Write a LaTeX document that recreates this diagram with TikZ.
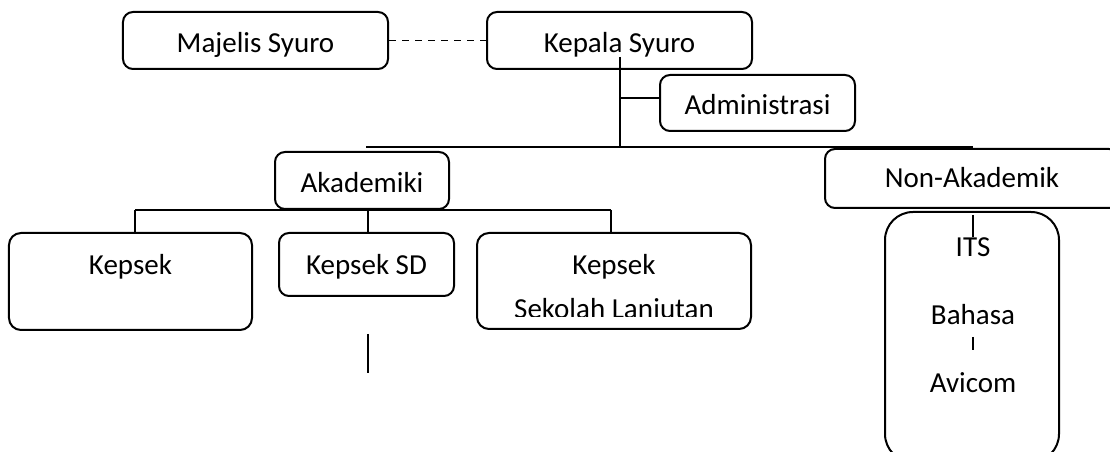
\documentclass[tikz,border=0pt]{standalone}
\usepackage{fontspec}
\setmainfont{Carlito}
\begin{document}
\begin{tikzpicture}[x=1bp,y=-1bp,line width=2bp,
  box/.style={draw, rounded corners=10bp, inner sep=0pt, text height=24bp, text depth=0bp,
    font=\fontsize{29bp}{34bp}\selectfont},
  bigbox/.style={draw, rounded corners=12bp, inner sep=0pt},
  txt/.style={inner sep=0pt, anchor=base, font=\fontsize{29bp}{34bp}\selectfont},
  dashlink/.style={line width=1.6bp, dash pattern=on 7bp off 6bp}]
\useasboundingbox (0,0) rectangle (1110,452);

% top level
\node[box, text height=25bp, minimum width=265bp, minimum height=57bp] (maj) at (255.5,40.5) {Majelis Syuro};
\node[box, text height=25bp, minimum width=265bp, minimum height=57bp] (kep) at (619.5,40.5) {Kepala Syuro};
\node[box, minimum width=195bp, minimum height=56bp] (adm) at (757.5,103) {Administrasi};
\draw[dashlink] (maj.east) -- (kep.west);

% trunk below Kepala Syuro
\coordinate (kepfoot) at (620,57);
\coordinate (trunk) at (620,147);
\draw (kepfoot) -- (trunk);
\coordinate (admjoin) at (620,98);
\draw (admjoin) -- (admjoin -| adm.west);
\coordinate (busL) at (366,147);
\coordinate (busR) at (973,147);
\draw[line width=1.6bp] (busL) -- (busR);

% academic branch
\node[box, text height=25bp, minimum width=174bp, minimum height=57bp] (aka) at (362,180.5) {Akademiki};
\node[bigbox, minimum width=243bp, minimum height=97bp] (k1) at (130.5,281.5) {};
\node[txt] (k1t) at (130.5,275) {Kepsek};
\node[box, text height=21bp, minimum width=175bp, minimum height=63bp] (ksd) at (366.5,264.5) {Kepsek SD};
\node[bigbox, minimum width=274bp, minimum height=96bp] (ksl) at (614,281) {};
\node[txt] (kslt) at (614,275) {Kepsek};
\begin{scope}
  \clip (477,233) rectangle (751,317);
  \node[txt] (kslu) at (614,318.5) {Sekolah Lanjutan};
\end{scope}

\coordinate (akaL) at (135,210);
\coordinate (akaM) at (368,210);
\coordinate (akaR) at (611,210);
\draw (akaL) -- (akaR);
\draw (akaL) -- (akaL |- k1.north);
\draw (akaM) -- (akaM |- ksd.north);
\draw (akaR) -- (akaR |- ksl.north);

% loose stroke under Kepsek SD
\coordinate (tailA) at (368,334);
\coordinate (tailB) at (368,373);
\draw (tailA) -- (tailB);

% non-academic branch
\node[box, text height=19bp, minimum width=294bp, minimum height=59bp] (non) at (972,178.5) {Non-Akademik};
\node[draw, rounded corners=28bp, inner sep=0pt, minimum width=174bp, minimum height=250bp] (grp) at (972,337) {};
\node[txt] (its) at (973,257) {ITS};
\node[txt] (bah) at (973,325) {Bahasa};
\node[txt] (avi) at (973,393) {Avicom};
\coordinate (itsTop) at (973,215);
\draw (itsTop) -- (its.north);
\coordinate (bahA) at (973,337);
\coordinate (bahB) at (973,350);
\draw (bahA) -- (bahB);
\end{tikzpicture}
\end{document}
